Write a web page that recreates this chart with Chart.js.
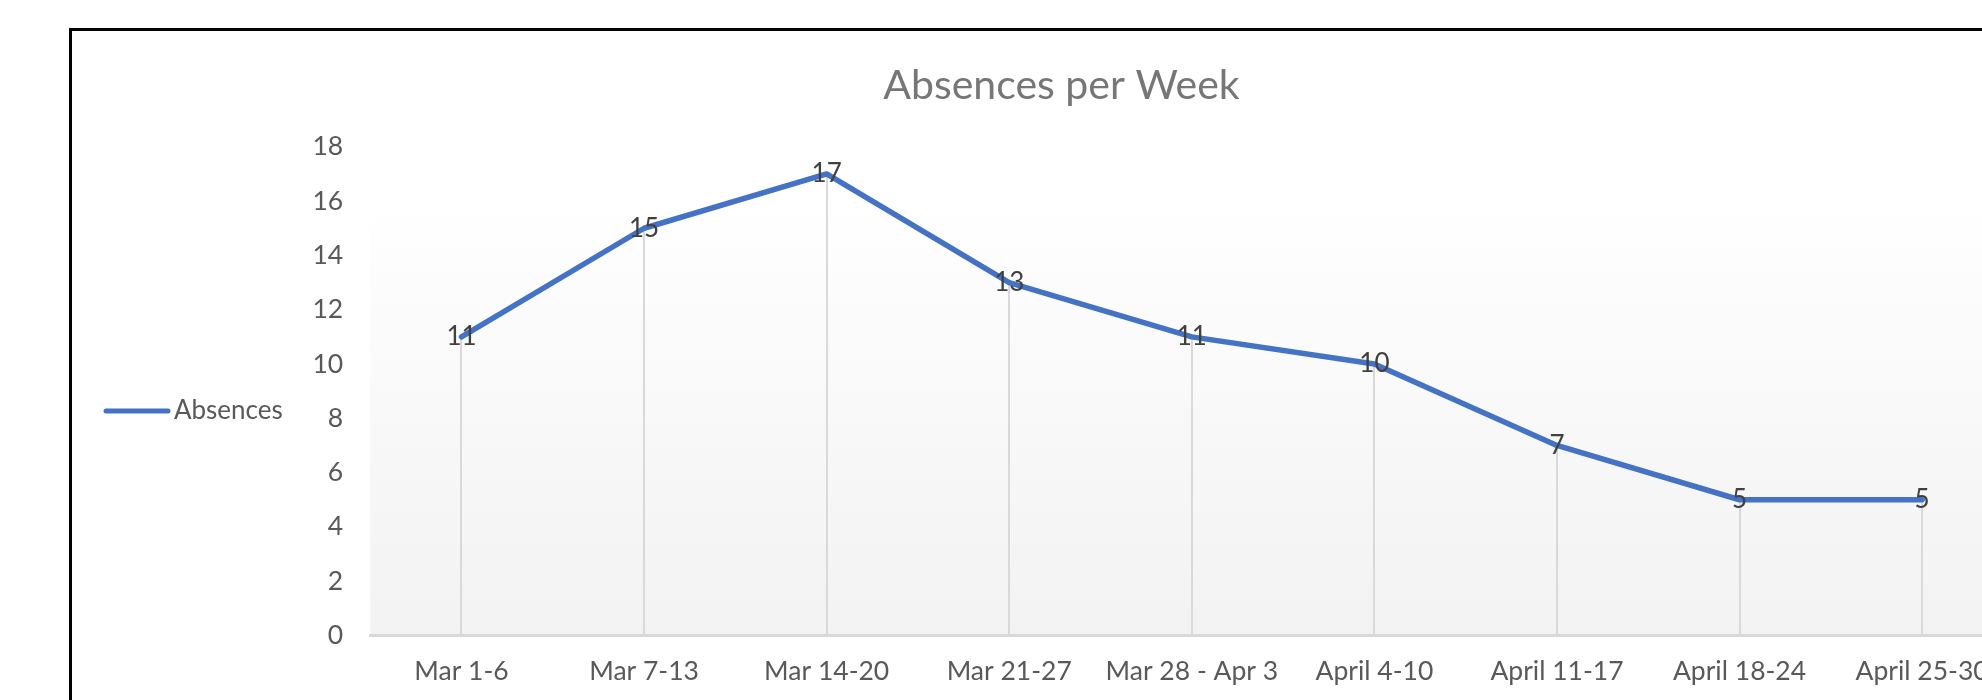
<!DOCTYPE html>
<html>
<head>
<meta charset="utf-8">
<script src="https://cdn.jsdelivr.net/npm/chart.js@4/dist/chart.umd.min.js"></script>
<style>
html, body { margin: 0; padding: 0; background: #ffffff; width: 1982px; height: 700px; overflow: hidden; }
#frame { position: absolute; left: 69px; top: 28px; width: 1979px; height: 700px; border: 3px solid #000000; background: #ffffff; }
#frame canvas { display: block; }
</style>
</head>
<body>
<div id="frame"><canvas id="chart" width="1979" height="700"></canvas></div>
<script>
// ---- data ----
const categories = ["Mar 1-6", "Mar 7-13", "Mar 14-20", "Mar 21-27", "Mar 28 - Apr 3", "April 4-10", "April 11-17", "April 18-24", "April 25-30"];
const absences = [11, 15, 17, 13, 11, 10, 7, 5, 5];
const yTickValues = [0, 2, 4, 6, 8, 10, 12, 14, 16, 18];
const seriesName = "Absences";
const chartTitle = "Absences per Week";

// ---- styles ----
const FONT = "Lato, 'Open Sans', 'Liberation Sans', sans-serif";
const LINE_COLOR = "#4472c4";
const TEXT_COLOR = "#595959";

const plotBackground = {
  id: "plotBackground",
  beforeDraw(chart) {
    const { ctx, chartArea: a } = chart;
    const g = ctx.createLinearGradient(0, a.top, 0, a.bottom);
    g.addColorStop(0, "#ffffff");
    g.addColorStop(0.1, "#ffffff");
    g.addColorStop(1, "#f2f2f2");
    ctx.save();
    ctx.fillStyle = g;
    ctx.fillRect(a.left, a.top, a.right - a.left, a.bottom - a.top);
    ctx.restore();
  }
};

const dropLines = {
  id: "dropLines",
  beforeDatasetsDraw(chart) {
    const { ctx, chartArea: a } = chart;
    const meta = chart.getDatasetMeta(0);
    ctx.save();
    ctx.strokeStyle = "#d9d9d9";
    ctx.lineWidth = 2;
    meta.data.forEach(p => {
      ctx.beginPath();
      ctx.moveTo(Math.round(p.x), p.y);
      ctx.lineTo(Math.round(p.x), a.bottom);
      ctx.stroke();
    });
    ctx.restore();
  }
};

const valueLabels = {
  id: "valueLabels",
  afterDatasetsDraw(chart) {
    const { ctx } = chart;
    const meta = chart.getDatasetMeta(0);
    const values = chart.data.datasets[0].data;
    ctx.save();
    ctx.font = "26px " + FONT;
    ctx.fillStyle = "#404040";
    ctx.textAlign = "center";
    ctx.textBaseline = "middle";
    meta.data.forEach((p, i) => {
      ctx.fillText(String(values[i]), p.x, p.y);
    });
    ctx.restore();
  }
};

const sideLegend = {
  id: "sideLegend",
  afterDraw(chart) {
    const { ctx } = chart;
    const ds = chart.data.datasets[0];
    const y = 380;
    ctx.save();
    ctx.strokeStyle = ds.borderColor;
    ctx.lineWidth = 5;
    ctx.lineCap = "round";
    ctx.beginPath();
    ctx.moveTo(34, y);
    ctx.lineTo(96, y);
    ctx.stroke();
    ctx.font = "26px " + FONT;
    ctx.fillStyle = TEXT_COLOR;
    ctx.textAlign = "left";
    ctx.textBaseline = "middle";
    ctx.fillText(ds.label, 102, y);
    ctx.restore();
  }
};

new Chart(document.getElementById("chart"), {
  type: "line",
  data: {
    labels: categories,
    datasets: [{
      label: seriesName,
      data: absences,
      borderColor: LINE_COLOR,
      backgroundColor: LINE_COLOR,
      borderWidth: 5.5,
      borderJoinStyle: "round",
      borderCapStyle: "round",
      pointRadius: 0,
      pointHoverRadius: 0,
      tension: 0,
      fill: false
    }]
  },
  options: {
    responsive: false,
    animation: false,
    events: [],
    layout: { padding: { left: 37.6, right: 37.6, top: 0, bottom: 0 } },
    plugins: {
      legend: { display: false },
      tooltip: { enabled: false },
      title: {
        display: true,
        text: chartTitle,
        color: "#767676",
        font: { family: FONT, size: 41, weight: "normal", lineHeight: 1.2 },
        padding: { top: 30.4, bottom: 36.2 }
      }
    },
    scales: {
      x: {
        type: "category",
        offset: true,
        grid: { display: false, drawTicks: false },
        border: { display: true, color: "#d9d9d9", width: 3 },
        ticks: {
          color: TEXT_COLOR,
          font: { family: FONT, size: 26.5, lineHeight: 1.2 },
          padding: 19.6,
          maxRotation: 0,
          autoSkip: false
        },
        afterFit(scale) { scale.height = 95.5; }
      },
      y: {
        type: "linear",
        min: yTickValues[0],
        max: yTickValues[yTickValues.length - 1],
        grid: { display: false, drawTicks: false },
        border: { display: false },
        afterBuildTicks(scale) { scale.ticks = yTickValues.map(v => ({ value: v })); },
        ticks: {
          color: TEXT_COLOR,
          font: { family: FONT, size: 26.5, lineHeight: 1.2 },
          padding: 27
        },
        afterFit(scale) { scale.width = 260.6; }
      }
    }
  },
  plugins: [plotBackground, dropLines, valueLabels, sideLegend]
});
</script>
</body>
</html>
